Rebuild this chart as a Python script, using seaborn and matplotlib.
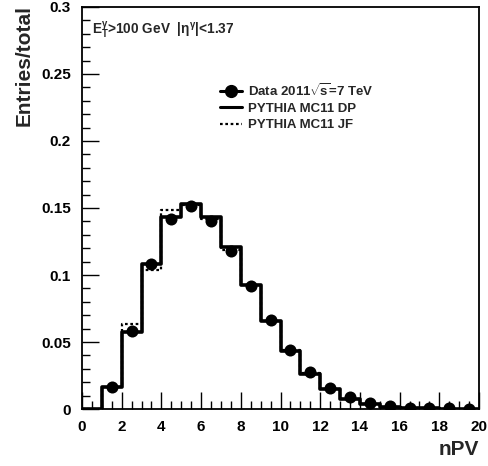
import numpy as np
import pandas as pd
import matplotlib
matplotlib.use("Agg")
import matplotlib.pyplot as plt
from matplotlib.lines import Line2D
from matplotlib.ticker import MultipleLocator
import seaborn as sns

# nPV bin edges (0..20, unit width)
bin_edges = list(range(0, 21))
bin_centers = [e + 0.5 for e in range(0, 20)]

# Normalised distributions (entries / total); no data entry in the first bin
data_2011 = [np.nan, 0.0167, 0.058, 0.108, 0.142, 0.1515, 0.1405, 0.118, 0.092, 0.0664,
             0.044, 0.0276, 0.0159, 0.0087, 0.0043, 0.0019, 0.0010, 0.0006, 0.0004, 0.0003]
pythia_dp = [0.0, 0.0162, 0.0577, 0.108, 0.143, 0.153, 0.1435, 0.121, 0.0925, 0.0657,
             0.0435, 0.026, 0.0147, 0.0075, 0.0035, 0.0015, 0.0008, 0.0004, 0.0002, 0.0001]
pythia_jf = [0.0, 0.0165, 0.0634, 0.104, 0.1485, 0.152, 0.1415, 0.119, 0.0925, 0.066,
             0.044, 0.0265, 0.015, 0.0078, 0.0037, 0.0016, 0.0008, 0.0004, 0.0002, 0.0001]

legend_labels = [r"Data 2011$\sqrt{\!\mathrm{s}}$=7 TeV", "PYTHIA MC11 DP", "PYTHIA MC11 JF"]

sns.set_theme(style="ticks")
plt.rcParams["font.family"] = ["Liberation Sans", "DejaVu Sans"]
plt.rcParams["font.weight"] = "bold"
plt.rcParams["mathtext.fontset"] = "custom"
plt.rcParams["mathtext.rm"] = "Liberation Sans:bold"
plt.rcParams["mathtext.it"] = "Liberation Sans:bold"
plt.rcParams["mathtext.bf"] = "Liberation Sans:bold"

df = pd.DataFrame({"npv": bin_centers, "data": data_2011, "dp": pythia_dp, "jf": pythia_jf})

fig = plt.figure(figsize=(4.89, 4.66), dpi=100)
ax = fig.add_axes([0.1677, 0.1223, 0.9796 - 0.1677, 0.985 - 0.1223])

sns.histplot(data=df, x="npv", weights="jf", bins=bin_edges, element="step", fill=False,
             color="black", linewidth=1.6, linestyle=(0, (1.2, 1.2)), ax=ax)
sns.histplot(data=df, x="npv", weights="dp", bins=bin_edges, element="step", fill=False,
             color="black", linewidth=2.6, ax=ax)
sns.scatterplot(data=df.dropna(), x="npv", y="data", color="black", s=75, edgecolor="black",
                linewidth=0, zorder=5, ax=ax)

ax.set_xlim(0, 20)
ax.set_ylim(0, 0.3)
ax.xaxis.set_major_locator(MultipleLocator(2))
ax.xaxis.set_minor_locator(MultipleLocator(0.5))
ax.yaxis.set_major_locator(MultipleLocator(0.05))
ax.yaxis.set_minor_locator(MultipleLocator(0.01))
ax.set_yticks([0, 0.05, 0.1, 0.15, 0.2, 0.25, 0.3])
ax.set_yticklabels(["0", "0.05", "0.1", "0.15", "0.2", "0.25", "0.3"])
ax.tick_params(which="both", direction="in", top=False, right=False, colors="black",
               labelsize=11)
ax.tick_params(axis="x", which="major", pad=8)
ax.tick_params(axis="y", which="major", pad=8)
ax.tick_params(which="major", length=12, width=1.0)
ax.tick_params(which="minor", length=6, width=1.0)
for lbl in ax.get_xticklabels() + ax.get_yticklabels():
    lbl.set_fontweight("bold")
for sp in ax.spines.values():
    sp.set_linewidth(1.3)
    sp.set_color("black")

ax.set_xlabel("")
ax.set_ylabel("")
fig.text(0.9796, 0.015, "nPV", ha="right", va="bottom", fontsize=15, fontweight="bold")
fig.text(0.029, 0.99, "Entries/total", rotation=90, ha="left", va="top",
         fontsize=15, fontweight="bold")

ax.text(0.025, 0.967, r"$\mathrm{E_T^{\gamma}}$>100 GeV  |$\mathrm{\eta^{\gamma}}$|<1.37",
        transform=ax.transAxes, ha="left", va="top", fontsize=9.8, fontweight="bold")

handles = [
    Line2D([], [], color="black", linewidth=2.2, marker="o", markersize=8.5),
    Line2D([], [], color="black", linewidth=2.2),
    Line2D([], [], color="black", linewidth=1.6, linestyle=(0, (1.2, 1.2))),
]
leg = ax.legend(handles, legend_labels, loc="upper left", bbox_to_anchor=(0.332, 0.83),
                frameon=False, fontsize=9.5, handlelength=1.6, handletextpad=0.5,
                labelspacing=0.3, borderpad=0)
for t in leg.get_texts():
    t.set_fontweight("bold")

fig.savefig("out.png", dpi=100)
